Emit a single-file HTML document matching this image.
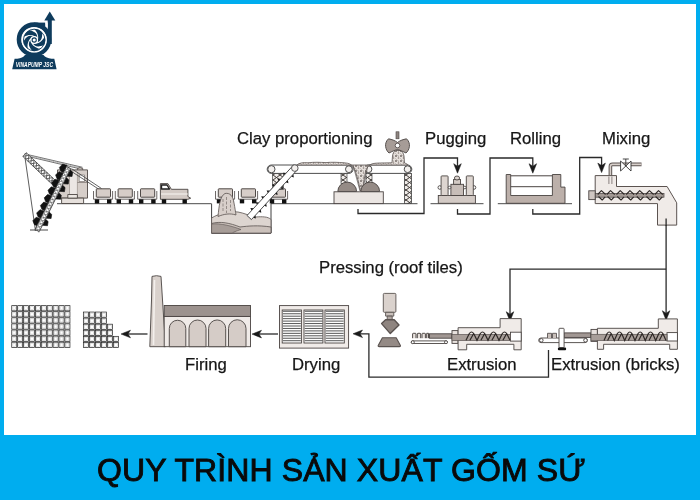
<!DOCTYPE html>
<html><head><meta charset="utf-8">
<style>
html,body{margin:0;padding:0;width:700px;height:500px;overflow:hidden;background:#fff}
#wrap{position:relative;width:700px;height:500px;background:#00adef}
#inner{position:absolute;left:4px;top:4px;width:692px;height:430.5px;background:#fff}
svg{position:absolute;left:0;top:0;will-change:transform}
.lbl{position:absolute;will-change:transform;-webkit-text-stroke:0.25px #161616;font-family:"Liberation Sans",sans-serif;font-size:16.7px;color:#161616;white-space:nowrap;line-height:1}
#title{position:absolute;will-change:transform;left:97px;top:453.5px;font-family:"Liberation Sans",sans-serif;font-weight:normal;-webkit-text-stroke:0.9px #0a0a0a;font-size:32px;color:#0a0a0a;letter-spacing:0.1px;white-space:nowrap;line-height:1}
</style></head><body>
<div id="wrap">
<div id="inner"></div>
<svg width="700" height="500" viewBox="0 0 700 500">
<g fill="none" stroke="#2a2a2a" stroke-width="1.3">
<!-- flow lines -->
<path d="M358 209 V213.5 H424 V158 H457.5 V166"/>
<path d="M457.5 209 V214 H490 V158 H532.8 V166"/>
<path d="M532.8 209 V214 H579.7 V157.5 H601.6 V166"/>
<path d="M666.1 219 V313"/>
<path d="M666.1 269.2 H510 V314"/>
<path d="M548.5 350 V377.2 H368.9 V333.8 H360"/>
<path d="M278 334 H258"/>
<path d="M147.5 334 H127"/>
</g>
<g fill="#1a1a1a" stroke="#1a1a1a" stroke-width="0.5" stroke-linejoin="miter"><path d="M457.5 173.2 L453.7 163.7 L457.5 166.2 L461.3 163.7 Z"/><path d="M532.8 173.2 L529.0 163.7 L532.8 166.2 L536.5999999999999 163.7 Z"/><path d="M601.6 172.6 L597.8000000000001 163.1 L601.6 165.6 L605.4 163.1 Z"/><path d="M666.1 320.2 L662.3000000000001 310.7 L666.1 313.2 L669.9 310.7 Z"/><path d="M510 321.2 L506.2 311.7 L510 314.2 L513.8 311.7 Z"/><path d="M353 333.8 L362.5 330.0 L360 333.8 L362.5 337.6 Z"/><path d="M252 334.1 L261.5 330.3 L259 334.1 L261.5 337.90000000000003 Z"/><path d="M121 334 L130.5 330.2 L128 334 L130.5 337.8 Z"/></g>

<g id="m1" stroke-linejoin="round">
<!-- ground lines -->
<g stroke="#4a4a4a" stroke-width="1" fill="none">
<path d="M57 203.7 H211.5 M271 203.7 H417.5"/>
<path d="M430.5 203.7 H483.5"/>
<path d="M497.8 203.7 H572"/>
<path d="M30 230 H48"/>
</g>
<!-- excavator -->
<g>
<path d="M24.6 154.8 L35.5 231" stroke="#333" stroke-width="0.8" fill="none"/>
<path d="M24.6 153.9 L82.5 167.3 M24.6 155.6 L82 169.3" stroke="#333" stroke-width="0.7" fill="none"/>
<path d="M24.40 155.43 L26.94 154.28 M24.80 153.77 L26.54 155.93 M26.54 155.93 L29.08 154.79 M26.94 154.28 L28.69 156.44 M28.69 156.44 L31.22 155.29 M29.08 154.79 L30.83 156.95 M30.83 156.95 L33.36 155.80 M31.22 155.29 L32.97 157.46 M32.97 157.46 L35.50 156.31 M33.36 155.80 L35.11 157.96 M35.11 157.96 L37.64 156.82 M35.50 156.31 L37.25 158.47 M37.25 158.47 L39.78 157.32 M37.64 156.82 L39.39 158.98 M39.39 158.98 L41.92 157.83 M39.78 157.32 L41.53 159.48 M41.53 159.48 L44.06 158.34 M41.92 157.83 L43.67 159.99 M43.67 159.99 L46.20 158.85 M44.06 158.34 L45.81 160.50 M45.81 160.50 L48.34 159.35 M46.20 158.85 L47.95 161.01 M47.95 161.01 L50.48 159.86 M48.34 159.35 L50.09 161.51 M50.09 161.51 L52.63 160.37 M50.48 159.86 L52.23 162.02 M52.23 162.02 L54.77 160.87 M52.63 160.37 L54.37 162.53 M54.37 162.53 L56.91 161.38 M54.77 160.87 L56.52 163.04 M56.52 163.04 L59.05 161.89 M56.91 161.38 L58.66 163.54 M58.66 163.54 L61.19 162.40 M59.05 161.89 L60.80 164.05 M60.80 164.05 L63.33 162.90 M61.19 162.40 L62.94 164.56 M62.94 164.56 L65.47 163.41 M63.33 162.90 L65.08 165.06 M65.08 165.06 L67.61 163.92 M65.47 163.41 L67.22 165.57 M67.22 165.57 L69.75 164.42 M67.61 163.92 L69.36 166.08 M69.36 166.08 L71.89 164.93 M69.75 164.42 L71.50 166.59 M71.50 166.59 L74.03 165.44 M71.89 164.93 L73.64 167.09 M73.64 167.09 L76.17 165.95 M74.03 165.44 L75.78 167.60 M75.78 167.60 L78.31 166.45 M76.17 165.95 L77.92 168.11 M77.92 168.11 L80.46 166.96 M78.31 166.45 L80.06 168.61 " stroke="#999" stroke-width="0.5" fill="none"/>
<path d="M22.87 156.41 L55.27 187.31 L58.73 183.69 L26.33 152.79 Z" fill="#fff" stroke="#333" stroke-width="0.8"/>
<path d="M22.87 156.41 L28.93 155.28 M26.33 152.79 L25.48 158.89 M25.48 158.89 L31.54 157.76 M28.93 155.28 L28.08 161.38 M28.08 161.38 L34.14 160.24 M31.54 157.76 L30.69 163.86 M30.69 163.86 L36.75 162.73 M34.14 160.24 L33.30 166.35 M33.30 166.35 L39.35 165.21 M36.75 162.73 L35.90 168.83 M35.90 168.83 L41.96 167.70 M39.35 165.21 L38.51 171.32 M38.51 171.32 L44.56 170.18 M41.96 167.70 L41.11 173.80 M41.11 173.80 L47.17 172.67 M44.56 170.18 L43.72 176.29 M43.72 176.29 L49.77 175.15 M47.17 172.67 L46.32 178.77 M46.32 178.77 L52.38 177.64 M49.77 175.15 L48.93 181.25 M48.93 181.25 L54.98 180.12 M52.38 177.64 L51.53 183.74 M51.53 183.74 L57.59 182.61 M54.98 180.12 L54.14 186.22 " stroke="#444" stroke-width="0.8" fill="none"/>
<g fill="#d6cec9" stroke="#4e4744" stroke-width="0.9">
<path d="M77.4 169.9 V168.5 Q80 166.8 82.7 168.5 V169.9" fill="#e0d9d5"/>
<rect x="57.5" y="169.9" width="30" height="28.2"/>
<rect x="61.6" y="198.1" width="22" height="5.4" fill="#e6e0dc"/>
<rect x="69.5" y="172" width="7.9" height="22" fill="#ece7e4" stroke="none"/>
<path d="M69.5 172 V194 M77.4 172 V198" stroke="#9a908b" stroke-width="0.7"/>
<rect x="79.2" y="175" width="5.3" height="6.5" fill="#fff" stroke="#6a625e" stroke-width="0.6"/>
<path d="M77.4 182.5 H87.5" stroke="#6a625e" stroke-width="0.6"/>
<rect x="67.8" y="194.5" width="9.6" height="3.6" fill="#ece7e3"/>
</g>
<g stroke="#3e3e3e" fill="none" stroke-width="0.8">
<path d="M71.5 168.6 L101.5 188.5 M70.5 170.8 L100 190"/>
</g>
<path d="M67.08 165.40 L62.74 164.02 L59.39 167.38 L60.82 171.22 L63.51 172.56 Z M63.29 173.01 L58.95 171.63 L55.60 174.98 L57.03 178.83 L59.72 180.17 Z M59.49 180.61 L55.15 179.23 L51.80 182.59 L53.24 186.44 L55.92 187.77 Z M55.70 188.22 L51.36 186.84 L48.01 190.20 L49.45 194.04 L52.13 195.38 Z M51.91 195.83 L47.57 194.45 L44.22 197.81 L45.66 201.65 L48.34 202.99 Z M48.12 203.44 L43.78 202.06 L40.43 205.41 L41.86 209.26 L44.55 210.60 Z M44.33 211.04 L39.99 209.66 L36.64 213.02 L38.07 216.87 L40.76 218.20 Z M40.54 218.65 L36.20 217.27 L32.85 220.63 L34.28 224.47 L36.97 225.81 Z M69.99 169.87 L72.68 172.32 L72.05 176.48 L66.87 176.13 Z M66.20 177.48 L68.88 179.93 L68.26 184.09 L63.08 183.74 Z M62.41 185.08 L65.09 187.54 L64.47 191.70 L59.28 191.35 Z M58.61 192.69 L61.30 195.15 L60.68 199.31 L55.49 198.96 Z M49.02 211.93 L51.71 214.39 L51.09 218.55 L45.90 218.20 Z M45.46 219.09 L48.14 221.55 L47.52 225.71 L42.33 225.36 Z " fill="#111" stroke="#111" stroke-width="0.6" stroke-linejoin="round"/>
<path d="M66.54 166.47 L35.14 229.47 L39.26 231.53 L70.66 168.53 Z" fill="#fff" stroke="#2e2e2e" stroke-width="0.9"/>
<path d="M66.54 166.47 L69.14 171.57 M70.66 168.53 L65.02 169.52 M65.02 169.52 L67.63 174.61 M69.14 171.57 L63.51 172.56 M63.51 172.56 L66.11 177.65 M67.63 174.61 L61.99 175.60 M61.99 175.60 L64.59 180.70 M66.11 177.65 L60.47 178.65 M60.47 178.65 L63.08 183.74 M64.59 180.70 L58.96 181.69 M58.96 181.69 L61.56 186.78 M63.08 183.74 L57.44 184.73 M57.44 184.73 L60.04 189.83 M61.56 186.78 L55.92 187.77 M55.92 187.77 L58.53 192.87 M60.04 189.83 L54.41 190.82 M54.41 190.82 L57.01 195.91 M58.53 192.87 L52.89 193.86 M52.89 193.86 L55.49 198.96 M57.01 195.91 L51.37 196.90 M51.37 196.90 L53.98 202.00 M55.49 198.96 L49.86 199.95 M49.86 199.95 L52.46 205.04 M53.98 202.00 L48.34 202.99 M48.34 202.99 L50.94 208.08 M52.46 205.04 L46.82 206.03 M46.82 206.03 L49.43 211.13 M50.94 208.08 L45.31 209.08 M45.31 209.08 L47.91 214.17 M49.43 211.13 L43.79 212.12 M43.79 212.12 L46.39 217.21 M47.91 214.17 L42.27 215.16 M42.27 215.16 L44.88 220.26 M46.39 217.21 L40.76 218.20 M40.76 218.20 L43.36 223.30 M44.88 220.26 L39.24 221.25 M39.24 221.25 L41.84 226.34 M43.36 223.30 L37.72 224.29 M37.72 224.29 L40.33 229.39 M41.84 226.34 L36.21 227.33 M36.21 227.33 L38.81 232.43 M40.33 229.39 L34.69 230.38 " stroke="#666" stroke-width="0.7" fill="none"/>
</g>
<!-- rail cars -->
<g id="car">
<path d="M93.5 191 V199.2 H112.6 V191" fill="#fbfaf9" stroke="#4a4442" stroke-width="0.8"/>
<rect x="96.3" y="188.8" width="14.2" height="8.4" fill="#d6cdc8" stroke="#3e3835" stroke-width="0.9" rx="0.6"/>
<rect x="94.8" y="199.3" width="4.4" height="4.2" fill="#111"/>
<rect x="107" y="199.3" width="4.4" height="4.2" fill="#111"/>
</g>
<use href="#car" x="21.8"/>
<use href="#car" x="44.2"/>
<use href="#car" x="122" y="0"/>
<use href="#car" x="145" y="0"/>
<!-- locomotive -->
<g stroke="#4a4442" stroke-width="0.9">
<path d="M160.4 199.3 V183.6 H167.9 L171.4 189.3 H187.9 V196.5 L190.7 198.2 L187.9 199.3 Z" fill="#d3cac5"/>
<path d="M161.5 185 H167 L169.5 189 H161.5 Z" fill="#fff" stroke="#222" stroke-width="1.4"/>
<path d="M161 194 H187.5" stroke="#e6e0dc" stroke-width="2"/>
<rect x="161.8" y="199.3" width="4.4" height="4.2" fill="#111" stroke="none"/>
<rect x="182.5" y="199.3" width="4.4" height="4.2" fill="#111" stroke="none"/>
</g>
</g>

<defs>
<pattern id="lat" width="7" height="4" patternUnits="userSpaceOnUse">
<rect width="7" height="4" fill="#fff"/>
<path d="M0 0 L3.5 4 L7 0" fill="none" stroke="#555" stroke-width="0.9"/>
</pattern>
<pattern id="latv" width="7" height="5" patternUnits="userSpaceOnUse">
<rect width="7" height="5" fill="#eeeae7"/>
<path d="M0 0 L7 5 M7 0 L0 5" fill="none" stroke="#3e3936" stroke-width="1"/>
</pattern>
<pattern id="speck" width="5" height="5" patternUnits="userSpaceOnUse">
<rect width="5" height="5" fill="#e6e0dc"/>
<circle cx="1" cy="1" r="0.9" fill="#6a625e"/>
<circle cx="3.5" cy="3" r="0.8" fill="#8a817c"/>
<path d="M2.5 0.5 L4 1.5 M0.5 3.5 L1.5 4.5" stroke="#5a5350" stroke-width="0.5"/>
</pattern>
</defs>
<g id="m2">
<!-- pit -->
<path d="M211.6 203.7 V233.1 H271 V203.7" fill="#fff" stroke="#3f3f3f" stroke-width="1"/>
<path d="M211.6 218 C218 214 228 211 238 212 C244 213 250 216 256 217 C262 216.5 268 216.5 271 219.5 V233.1 H211.6 Z" fill="#ddd5d0" stroke="#5a5350" stroke-width="0.8"/>
<path d="M211.6 223.5 C220 221 230 223 240 227 C248 226 258 225 271 227 V233.1 H211.6 Z" fill="#cbc1bb" stroke="#5a5350" stroke-width="0.8"/>
<path d="M211.6 224 C220 223 232 226 241 229.5 C236 231 233 232.5 232 233.1 H211.6 Z" fill="#a79d98" stroke="#5a5350" stroke-width="0.6"/>
<path d="M218 216.5 C219 206 220 196 225 193.5 C230 192.5 233 196 234 203 C235 208 235.5 212 236 215 C230 213 224 214 218 216.5 Z" fill="#d8cfca" stroke="#5a5350" stroke-width="0.8"/>
<path d="M223 199 V212 M226.5 197 V213 M230.5 200 V211" stroke="#8c837f" stroke-width="0.9" stroke-dasharray="3 1.5"/>
<!-- car 3 behind diag conveyor + small lattice -->
<use href="#car" x="175"/>
<rect x="272.5" y="173.4" width="11" height="16" fill="url(#latv)" stroke="#444" stroke-width="0.7"/>
<!-- upper belts -->
<g stroke="#3a3a3a" stroke-width="0.9">
<path d="M271.4 165 H348.9 A4.2 4.2 0 0 1 348.9 173.4 H271.4 A4.2 4.2 0 0 1 271.4 165 Z" fill="#fff"/>
<circle cx="271.4" cy="169.2" r="3.6" fill="#f3f0ee"/>
<circle cx="348.9" cy="169.2" r="3.4" fill="#f3f0ee"/>
<path d="M368.5 165 H407.6 A4.2 4.2 0 0 1 407.6 173.4 H368.5 A4.2 4.2 0 0 1 368.5 165 Z" fill="#fff"/>
<circle cx="368.5" cy="169.2" r="3.4" fill="#f3f0ee"/>
<circle cx="407.6" cy="169.2" r="3.4" fill="#f3f0ee"/>
</g>
<!-- clay on belts -->
<path d="M297 165 C299 163 303 162.2 308 162.8 C314 162 320 162.3 326 162.6 C332 162 338 162.3 344 162.8 C349 163 352 164.5 354 168 C356 172 358 180 360.5 191 L362.5 191 C364 180 365 172 367 168 C369 164.5 372 163.4 376 163.2 C382 162.8 388 163 392 162.8 L392.5 156 C393 153 394 151 396 150.5 H400 C402 151 403.5 153 404 156 L404.5 163 C406 163.5 407.5 164 408 165 H297 Z" fill="url(#speck)" stroke="#5a5350" stroke-width="0.8"/>
<path d="M353 165 L360 191 M368 165 L362.5 191" stroke="#5a5350" stroke-width="0.7" fill="none"/>
<!-- diagonal conveyor -->
<g>
<path d="M293.35 174.10 L293.83 177.41 L291.18 176.46 Z M287.92 179.99 L288.41 183.29 L285.75 182.34 Z M282.50 185.87 L282.99 189.17 L280.33 188.22 Z M277.08 191.75 L277.57 195.05 L274.91 194.10 Z M271.65 197.63 L272.14 200.94 L269.49 199.98 Z M266.23 203.51 L266.72 206.82 L264.06 205.86 Z M260.81 209.39 L261.30 212.70 L258.64 211.75 Z M255.39 215.28 L255.87 218.58 L253.22 217.63 Z M286.22 172.98 L282.89 172.76 L284.05 175.33 Z M280.80 178.86 L277.46 178.64 L278.63 181.21 Z M275.38 184.74 L272.04 184.52 L273.21 187.09 Z M269.95 190.62 L266.62 190.40 L267.79 192.98 Z M264.53 196.50 L261.20 196.29 L262.36 198.86 Z M259.11 202.39 L255.77 202.17 L256.94 204.74 Z M253.69 208.27 L250.35 208.05 L251.52 210.62 Z " fill="#1a1a1a"/>
<path d="M293.61 164.96 L247.02 215.50 L251.43 219.57 L298.02 169.03 Z" fill="#fff" stroke="#3a3a3a" stroke-width="0.9"/>
<circle cx="294.8" cy="168.1" r="3.3" fill="#f3f0ee" stroke="#3a3a3a" stroke-width="0.8"/>
</g>
<!-- crusher -->
<rect x="341" y="173.4" width="6" height="10" fill="url(#latv)" stroke="#444" stroke-width="0.7"/>
<rect x="366" y="173.4" width="6" height="10" fill="url(#latv)" stroke="#444" stroke-width="0.7"/>
<path d="M337.8 191.5 A9.4 9.4 0 0 1 356.6 191.5 Z" fill="#958b86" stroke="#4a4442" stroke-width="0.9"/>
<path d="M360.8 191.5 A9.4 9.4 0 0 1 379.6 191.5 Z" fill="#958b86" stroke="#4a4442" stroke-width="0.9"/>
<rect x="334" y="191.8" width="49.3" height="11.8" fill="#ebe6e3" stroke="#4a4442" stroke-width="0.9"/>
<rect x="404.5" y="173.4" width="7" height="30.2" fill="url(#latv)" stroke="#444" stroke-width="0.8"/>
<!-- axe crusher on top -->
<rect x="396" y="131.8" width="3" height="7" fill="#8d8480" stroke="#4a4442" stroke-width="0.6"/>
<path d="M397.5 142.5 C395 140.5 392 139.5 388.5 138.8 C386 141 385.3 144 385.6 146.5 C386 149.5 387.5 151.8 389 153 C392 151.5 395 150 397.5 149.5 C400 150 403 151.5 406 153 C407.5 151.8 409 149.5 409.4 146.5 C409.7 144 409 141 406.5 138.8 C403 139.5 400 140.5 397.5 142.5 Z" fill="#a69c97" stroke="#4a4442" stroke-width="0.9"/>
<circle cx="397.5" cy="145.5" r="2.3" fill="#fff" stroke="#4a4442" stroke-width="0.8"/>
</g>

<g id="m3" stroke="#4a4442" stroke-width="0.9">
<!-- pugging -->
<rect x="438.3" y="195.5" width="37.1" height="7.8" fill="#d3cac5"/>
<circle cx="439.8" cy="187.5" r="1.8" fill="#fff"/>
<circle cx="474" cy="187.5" r="1.8" fill="#fff"/>
<rect x="441.1" y="175.9" width="7" height="19.6" fill="#ddd5d0" rx="0.8"/>
<rect x="466.3" y="175.9" width="7" height="19.6" fill="#ddd5d0" rx="0.8"/>
<rect x="450.9" y="184.3" width="12.6" height="11.2" fill="#c7bdb8"/>
<rect x="453.6" y="179.5" width="6.9" height="4.8" fill="#d3cac5"/>
<ellipse cx="457" cy="178" rx="2.6" ry="2" fill="#ddd5d0"/>
<circle cx="449.5" cy="187.5" r="1.3" fill="#fff"/>
<circle cx="464.8" cy="187.5" r="1.3" fill="#fff"/>
<!-- rolling -->
<path d="M506.2 174.5 H510.7 V195.5 H552.4 V174.5 H560.8 V187.1 H565 V203.3 H506.2 Z" fill="#bcb0aa"/>
<path d="M510.7 175.8 H552.4 M510.7 186.7 H552.4" fill="none" stroke="#4a4442" stroke-width="1"/>
<!-- mixer -->
<path d="M610.4 176 V166.5 Q610.4 164.4 612.5 164.4 H641.5" fill="none" stroke="#5b5350" stroke-width="3.6"/>
<path d="M610.4 176 V166.5 Q610.4 164.4 612.5 164.4 H641.5" fill="none" stroke="#d8d0cb" stroke-width="1.6"/>
<path d="M620.6 161 L620.6 171 L631 161 L631 171 Z" fill="#fff" stroke="#333" stroke-width="0.9"/>
<path d="M625.8 166 V159 M622.8 159 H628.8" fill="none" stroke="#333" stroke-width="0.9"/>
<path d="M595.2 175.6 H616.5 V186.5 H667.1 L676.7 202.8 V225.1 H657.5 V203.6 H595.2 Z" fill="#f0ebe8" stroke="#5b5350" stroke-width="1"/>
<rect x="588.8" y="190.8" width="6.4" height="8.8" fill="#cfc6c1"/>
<path d="M666.1 218.5 V226" stroke="#2a2a2a" stroke-width="1.3" fill="none"/>
<path d="M608.9 176.5 V184 M611.9 176.5 V184" stroke="#5b5350" stroke-width="0.7" fill="none"/>
<rect x="595.3" y="193.5" width="68.7" height="3.7" fill="#a39994" stroke-width="0.7"/>
<g fill="none" stroke="#2e2826" stroke-width="1.1" stroke-linejoin="round">
<path d="M597.7 194.5 L601.4 190.6 L605.6 194.5 M598.5 196.5 L602.2 200 L605.2 196.8 M606.8 194.5 L610.5 190.6 L614.7 194.5 M607.6 196.5 L611.3 200 L614.3 196.8 M616.5 194.5 L620.2 190.6 L624.4 194.5 M617.3 196.5 L621.0 200 L624.0 196.8 M626.2 194.5 L629.9 190.6 L634.1 194.5 M627.0 196.5 L630.7 200 L633.7 196.8 M636.0 194.5 L639.7 190.6 L643.9 194.5 M636.8 196.5 L640.5 200 L643.5 196.8 M645.7 194.5 L649.4 190.6 L653.6 194.5 M646.5 196.5 L650.2 200 L653.2 196.8 M654.8 194.5 L658.5 190.6 L662.7 194.5 M655.6 196.5 L659.3 200 L662.3 196.8 "/>
</g>
</g>

<g id="m4">
<!-- grids -->
<g fill="none" stroke="#222" stroke-width="0.72">
<rect x="11.75" y="305.65" width="5.01" height="5.19"/>
<rect x="17.66" y="305.65" width="5.01" height="5.19"/>
<rect x="23.57" y="305.65" width="5.01" height="5.19"/>
<rect x="29.48" y="305.65" width="5.01" height="5.19"/>
<rect x="35.39" y="305.65" width="5.01" height="5.19"/>
<rect x="41.30" y="305.65" width="5.01" height="5.19"/>
<rect x="47.21" y="305.65" width="5.01" height="5.19"/>
<rect x="53.12" y="305.65" width="5.01" height="5.19"/>
<rect x="59.03" y="305.65" width="5.01" height="5.19"/>
<rect x="64.94" y="305.65" width="5.01" height="5.19"/>
<rect x="11.75" y="311.74" width="5.01" height="5.19"/>
<rect x="17.66" y="311.74" width="5.01" height="5.19"/>
<rect x="23.57" y="311.74" width="5.01" height="5.19"/>
<rect x="29.48" y="311.74" width="5.01" height="5.19"/>
<rect x="35.39" y="311.74" width="5.01" height="5.19"/>
<rect x="41.30" y="311.74" width="5.01" height="5.19"/>
<rect x="47.21" y="311.74" width="5.01" height="5.19"/>
<rect x="53.12" y="311.74" width="5.01" height="5.19"/>
<rect x="59.03" y="311.74" width="5.01" height="5.19"/>
<rect x="64.94" y="311.74" width="5.01" height="5.19"/>
<rect x="11.75" y="317.83" width="5.01" height="5.19"/>
<rect x="17.66" y="317.83" width="5.01" height="5.19"/>
<rect x="23.57" y="317.83" width="5.01" height="5.19"/>
<rect x="29.48" y="317.83" width="5.01" height="5.19"/>
<rect x="35.39" y="317.83" width="5.01" height="5.19"/>
<rect x="41.30" y="317.83" width="5.01" height="5.19"/>
<rect x="47.21" y="317.83" width="5.01" height="5.19"/>
<rect x="53.12" y="317.83" width="5.01" height="5.19"/>
<rect x="59.03" y="317.83" width="5.01" height="5.19"/>
<rect x="64.94" y="317.83" width="5.01" height="5.19"/>
<rect x="11.75" y="323.92" width="5.01" height="5.19"/>
<rect x="17.66" y="323.92" width="5.01" height="5.19"/>
<rect x="23.57" y="323.92" width="5.01" height="5.19"/>
<rect x="29.48" y="323.92" width="5.01" height="5.19"/>
<rect x="35.39" y="323.92" width="5.01" height="5.19"/>
<rect x="41.30" y="323.92" width="5.01" height="5.19"/>
<rect x="47.21" y="323.92" width="5.01" height="5.19"/>
<rect x="53.12" y="323.92" width="5.01" height="5.19"/>
<rect x="59.03" y="323.92" width="5.01" height="5.19"/>
<rect x="64.94" y="323.92" width="5.01" height="5.19"/>
<rect x="11.75" y="330.01" width="5.01" height="5.19"/>
<rect x="17.66" y="330.01" width="5.01" height="5.19"/>
<rect x="23.57" y="330.01" width="5.01" height="5.19"/>
<rect x="29.48" y="330.01" width="5.01" height="5.19"/>
<rect x="35.39" y="330.01" width="5.01" height="5.19"/>
<rect x="41.30" y="330.01" width="5.01" height="5.19"/>
<rect x="47.21" y="330.01" width="5.01" height="5.19"/>
<rect x="53.12" y="330.01" width="5.01" height="5.19"/>
<rect x="59.03" y="330.01" width="5.01" height="5.19"/>
<rect x="64.94" y="330.01" width="5.01" height="5.19"/>
<rect x="11.75" y="336.10" width="5.01" height="5.19"/>
<rect x="17.66" y="336.10" width="5.01" height="5.19"/>
<rect x="23.57" y="336.10" width="5.01" height="5.19"/>
<rect x="29.48" y="336.10" width="5.01" height="5.19"/>
<rect x="35.39" y="336.10" width="5.01" height="5.19"/>
<rect x="41.30" y="336.10" width="5.01" height="5.19"/>
<rect x="47.21" y="336.10" width="5.01" height="5.19"/>
<rect x="53.12" y="336.10" width="5.01" height="5.19"/>
<rect x="59.03" y="336.10" width="5.01" height="5.19"/>
<rect x="64.94" y="336.10" width="5.01" height="5.19"/>
<rect x="11.75" y="342.19" width="5.01" height="5.19"/>
<rect x="17.66" y="342.19" width="5.01" height="5.19"/>
<rect x="23.57" y="342.19" width="5.01" height="5.19"/>
<rect x="29.48" y="342.19" width="5.01" height="5.19"/>
<rect x="35.39" y="342.19" width="5.01" height="5.19"/>
<rect x="41.30" y="342.19" width="5.01" height="5.19"/>
<rect x="47.21" y="342.19" width="5.01" height="5.19"/>
<rect x="53.12" y="342.19" width="5.01" height="5.19"/>
<rect x="59.03" y="342.19" width="5.01" height="5.19"/>
<rect x="64.94" y="342.19" width="5.01" height="5.19"/><rect x="83.35" y="312.05" width="5.10" height="5.17"/>
<rect x="89.35" y="312.05" width="5.10" height="5.17"/>
<rect x="95.35" y="312.05" width="5.10" height="5.17"/>
<rect x="101.35" y="312.05" width="5.10" height="5.17"/>
<rect x="83.35" y="318.12" width="5.10" height="5.17"/>
<rect x="89.35" y="318.12" width="5.10" height="5.17"/>
<rect x="95.35" y="318.12" width="5.10" height="5.17"/>
<rect x="101.35" y="318.12" width="5.10" height="5.17"/>
<rect x="83.35" y="324.19" width="5.10" height="5.17"/>
<rect x="89.35" y="324.19" width="5.10" height="5.17"/>
<rect x="95.35" y="324.19" width="5.10" height="5.17"/>
<rect x="101.35" y="324.19" width="5.10" height="5.17"/>
<rect x="107.35" y="324.19" width="5.10" height="5.17"/>
<rect x="83.35" y="330.26" width="5.10" height="5.17"/>
<rect x="89.35" y="330.26" width="5.10" height="5.17"/>
<rect x="95.35" y="330.26" width="5.10" height="5.17"/>
<rect x="101.35" y="330.26" width="5.10" height="5.17"/>
<rect x="107.35" y="330.26" width="5.10" height="5.17"/>
<rect x="83.35" y="336.33" width="5.10" height="5.17"/>
<rect x="89.35" y="336.33" width="5.10" height="5.17"/>
<rect x="95.35" y="336.33" width="5.10" height="5.17"/>
<rect x="101.35" y="336.33" width="5.10" height="5.17"/>
<rect x="107.35" y="336.33" width="5.10" height="5.17"/>
<rect x="113.35" y="336.33" width="5.10" height="5.17"/>
<rect x="83.35" y="342.40" width="5.10" height="5.17"/>
<rect x="89.35" y="342.40" width="5.10" height="5.17"/>
<rect x="95.35" y="342.40" width="5.10" height="5.17"/>
<rect x="101.35" y="342.40" width="5.10" height="5.17"/>
<rect x="107.35" y="342.40" width="5.10" height="5.17"/>
<rect x="113.35" y="342.40" width="5.10" height="5.17"/>
</g>
<g fill="none" stroke="#c8c8c8" stroke-width="0.5">
<rect x="12.90" y="306.80" width="2.71" height="2.89"/>
<rect x="18.81" y="306.80" width="2.71" height="2.89"/>
<rect x="24.72" y="306.80" width="2.71" height="2.89"/>
<rect x="30.63" y="306.80" width="2.71" height="2.89"/>
<rect x="36.54" y="306.80" width="2.71" height="2.89"/>
<rect x="42.45" y="306.80" width="2.71" height="2.89"/>
<rect x="48.36" y="306.80" width="2.71" height="2.89"/>
<rect x="54.27" y="306.80" width="2.71" height="2.89"/>
<rect x="60.18" y="306.80" width="2.71" height="2.89"/>
<rect x="66.09" y="306.80" width="2.71" height="2.89"/>
<rect x="12.90" y="312.89" width="2.71" height="2.89"/>
<rect x="18.81" y="312.89" width="2.71" height="2.89"/>
<rect x="24.72" y="312.89" width="2.71" height="2.89"/>
<rect x="30.63" y="312.89" width="2.71" height="2.89"/>
<rect x="36.54" y="312.89" width="2.71" height="2.89"/>
<rect x="42.45" y="312.89" width="2.71" height="2.89"/>
<rect x="48.36" y="312.89" width="2.71" height="2.89"/>
<rect x="54.27" y="312.89" width="2.71" height="2.89"/>
<rect x="60.18" y="312.89" width="2.71" height="2.89"/>
<rect x="66.09" y="312.89" width="2.71" height="2.89"/>
<rect x="12.90" y="318.98" width="2.71" height="2.89"/>
<rect x="18.81" y="318.98" width="2.71" height="2.89"/>
<rect x="24.72" y="318.98" width="2.71" height="2.89"/>
<rect x="30.63" y="318.98" width="2.71" height="2.89"/>
<rect x="36.54" y="318.98" width="2.71" height="2.89"/>
<rect x="42.45" y="318.98" width="2.71" height="2.89"/>
<rect x="48.36" y="318.98" width="2.71" height="2.89"/>
<rect x="54.27" y="318.98" width="2.71" height="2.89"/>
<rect x="60.18" y="318.98" width="2.71" height="2.89"/>
<rect x="66.09" y="318.98" width="2.71" height="2.89"/>
<rect x="12.90" y="325.07" width="2.71" height="2.89"/>
<rect x="18.81" y="325.07" width="2.71" height="2.89"/>
<rect x="24.72" y="325.07" width="2.71" height="2.89"/>
<rect x="30.63" y="325.07" width="2.71" height="2.89"/>
<rect x="36.54" y="325.07" width="2.71" height="2.89"/>
<rect x="42.45" y="325.07" width="2.71" height="2.89"/>
<rect x="48.36" y="325.07" width="2.71" height="2.89"/>
<rect x="54.27" y="325.07" width="2.71" height="2.89"/>
<rect x="60.18" y="325.07" width="2.71" height="2.89"/>
<rect x="66.09" y="325.07" width="2.71" height="2.89"/>
<rect x="12.90" y="331.16" width="2.71" height="2.89"/>
<rect x="18.81" y="331.16" width="2.71" height="2.89"/>
<rect x="24.72" y="331.16" width="2.71" height="2.89"/>
<rect x="30.63" y="331.16" width="2.71" height="2.89"/>
<rect x="36.54" y="331.16" width="2.71" height="2.89"/>
<rect x="42.45" y="331.16" width="2.71" height="2.89"/>
<rect x="48.36" y="331.16" width="2.71" height="2.89"/>
<rect x="54.27" y="331.16" width="2.71" height="2.89"/>
<rect x="60.18" y="331.16" width="2.71" height="2.89"/>
<rect x="66.09" y="331.16" width="2.71" height="2.89"/>
<rect x="12.90" y="337.25" width="2.71" height="2.89"/>
<rect x="18.81" y="337.25" width="2.71" height="2.89"/>
<rect x="24.72" y="337.25" width="2.71" height="2.89"/>
<rect x="30.63" y="337.25" width="2.71" height="2.89"/>
<rect x="36.54" y="337.25" width="2.71" height="2.89"/>
<rect x="42.45" y="337.25" width="2.71" height="2.89"/>
<rect x="48.36" y="337.25" width="2.71" height="2.89"/>
<rect x="54.27" y="337.25" width="2.71" height="2.89"/>
<rect x="60.18" y="337.25" width="2.71" height="2.89"/>
<rect x="66.09" y="337.25" width="2.71" height="2.89"/>
<rect x="12.90" y="343.34" width="2.71" height="2.89"/>
<rect x="18.81" y="343.34" width="2.71" height="2.89"/>
<rect x="24.72" y="343.34" width="2.71" height="2.89"/>
<rect x="30.63" y="343.34" width="2.71" height="2.89"/>
<rect x="36.54" y="343.34" width="2.71" height="2.89"/>
<rect x="42.45" y="343.34" width="2.71" height="2.89"/>
<rect x="48.36" y="343.34" width="2.71" height="2.89"/>
<rect x="54.27" y="343.34" width="2.71" height="2.89"/>
<rect x="60.18" y="343.34" width="2.71" height="2.89"/>
<rect x="66.09" y="343.34" width="2.71" height="2.89"/><rect x="84.50" y="313.20" width="2.80" height="2.87"/>
<rect x="90.50" y="313.20" width="2.80" height="2.87"/>
<rect x="96.50" y="313.20" width="2.80" height="2.87"/>
<rect x="102.50" y="313.20" width="2.80" height="2.87"/>
<rect x="84.50" y="319.27" width="2.80" height="2.87"/>
<rect x="90.50" y="319.27" width="2.80" height="2.87"/>
<rect x="96.50" y="319.27" width="2.80" height="2.87"/>
<rect x="102.50" y="319.27" width="2.80" height="2.87"/>
<rect x="84.50" y="325.34" width="2.80" height="2.87"/>
<rect x="90.50" y="325.34" width="2.80" height="2.87"/>
<rect x="96.50" y="325.34" width="2.80" height="2.87"/>
<rect x="102.50" y="325.34" width="2.80" height="2.87"/>
<rect x="108.50" y="325.34" width="2.80" height="2.87"/>
<rect x="84.50" y="331.41" width="2.80" height="2.87"/>
<rect x="90.50" y="331.41" width="2.80" height="2.87"/>
<rect x="96.50" y="331.41" width="2.80" height="2.87"/>
<rect x="102.50" y="331.41" width="2.80" height="2.87"/>
<rect x="108.50" y="331.41" width="2.80" height="2.87"/>
<rect x="84.50" y="337.48" width="2.80" height="2.87"/>
<rect x="90.50" y="337.48" width="2.80" height="2.87"/>
<rect x="96.50" y="337.48" width="2.80" height="2.87"/>
<rect x="102.50" y="337.48" width="2.80" height="2.87"/>
<rect x="108.50" y="337.48" width="2.80" height="2.87"/>
<rect x="114.50" y="337.48" width="2.80" height="2.87"/>
<rect x="84.50" y="343.55" width="2.80" height="2.87"/>
<rect x="90.50" y="343.55" width="2.80" height="2.87"/>
<rect x="96.50" y="343.55" width="2.80" height="2.87"/>
<rect x="102.50" y="343.55" width="2.80" height="2.87"/>
<rect x="108.50" y="343.55" width="2.80" height="2.87"/>
<rect x="114.50" y="343.55" width="2.80" height="2.87"/>
</g>
<!-- kiln -->
<g stroke="#4a4442" stroke-width="0.9">
<path d="M152 276.4 Q156.5 275 161 276.4 L162.5 300 L165.5 346.7 H149.8 L151.5 300 Z" fill="#d9d1cc"/>
<path d="M154.5 280 L153.5 345" stroke="#f3efec" stroke-width="1.6"/>
<rect x="164.2" y="316.4" width="86.3" height="30.3" fill="#f0ebe8"/>
<rect x="164.2" y="305.5" width="86.3" height="10.9" fill="#9c928e"/>
<path d="M169.3 346.7 V328.5 A8.25 8.25 0 0 1 185.8 328.5 V346.7 Z M189 346.7 V328.5 A8.5 8.5 0 0 1 206 328.5 V346.7 Z M208.6 346.7 V328.5 A8.55 8.55 0 0 1 225.7 328.5 V346.7 Z M228.5 346.7 V328.5 A8.75 8.75 0 0 1 246 328.5 V346.7 Z" fill="#d5ccc7"/>
</g>
<!-- dryer -->
<g stroke="#4a4442" stroke-width="0.9">
<rect x="279.5" y="305.6" width="69.1" height="42.5" fill="#f0ebe8"/>
<rect x="282.2" y="310" width="19.2" height="33" fill="#fff"/>
<rect x="304" y="310" width="18.9" height="33" fill="#fff"/>
<rect x="325" y="310" width="19.3" height="33" fill="#fff"/>
<path d="M283.0 311.30 H300.8 M283.0 313.75 H300.8 M283.0 316.20 H300.8 M283.0 318.65 H300.8 M283.0 321.10 H300.8 M283.0 323.55 H300.8 M283.0 326.00 H300.8 M283.0 328.45 H300.8 M283.0 330.90 H300.8 M283.0 333.35 H300.8 M283.0 335.80 H300.8 M283.0 338.25 H300.8 M283.0 340.70 H300.8 M304.8 311.30 H322.6 M304.8 313.75 H322.6 M304.8 316.20 H322.6 M304.8 318.65 H322.6 M304.8 321.10 H322.6 M304.8 323.55 H322.6 M304.8 326.00 H322.6 M304.8 328.45 H322.6 M304.8 330.90 H322.6 M304.8 333.35 H322.6 M304.8 335.80 H322.6 M304.8 338.25 H322.6 M304.8 340.70 H322.6 M325.8 311.30 H343.6 M325.8 313.75 H343.6 M325.8 316.20 H343.6 M325.8 318.65 H343.6 M325.8 321.10 H343.6 M325.8 323.55 H343.6 M325.8 326.00 H343.6 M325.8 328.45 H343.6 M325.8 330.90 H343.6 M325.8 333.35 H343.6 M325.8 335.80 H343.6 M325.8 338.25 H343.6 M325.8 340.70 H343.6 " fill="none" stroke="#3a3a3a" stroke-width="0.85"/>
</g>
<!-- press -->
<g stroke="#5a5350" stroke-width="0.9" stroke-linejoin="round">
<rect x="383.3" y="293.4" width="12.6" height="18.9" fill="#dad2cd" rx="1"/>
<rect x="385.6" y="312.3" width="8.2" height="3.8" fill="#c9c0bb"/>
<rect x="387.2" y="316.1" width="5" height="3.9" fill="#b0a6a1"/>
<path d="M381.6 323.6 L385.6 319.8 H394.2 L399 325 L390.3 333.6 Z" fill="#8f8580" stroke-width="1.4"/>
<path d="M382.4 337.8 H396.2 L400.4 345.5 Q400.6 346.6 399.4 346.6 H379.2 Q377.9 346.6 378.2 345.5 Z" fill="#948a85" stroke-width="1.1"/>
</g>
<!-- extruder tiles -->
<g stroke="#4a4442" stroke-width="0.9">
<path d="M412.5 340.9 H446 A1.3 1.3 0 0 1 446 343.5 H412.5 A1.3 1.3 0 0 1 412.5 340.9 Z" fill="#fff"/>
<circle cx="412.8" cy="342.2" r="1.5" fill="#fff"/>
<circle cx="446" cy="342.2" r="1.5" fill="#fff"/>
<rect x="429.5" y="333.8" width="22.5" height="4.4" fill="#a19793"/>
<path d="M412.6 338.2 V334 Q412.6 333.3 413.3 333.3 H415.3 Q416 333.3 416 334 V338.2 M417.3 338.2 V334 Q417.3 333.3 418 333.3 H420 Q420.7 333.3 420.7 334 V338.2 M422 338.2 V334 Q422 333.3 422.7 333.3 H424.7 Q425.4 333.3 425.4 334 V338.2 M426.7 338.2 V333.3 H428.5 V338.2" fill="#e8e2de" stroke="#3e3835" stroke-width="0.9"/>
<rect x="452" y="330.6" width="6.1" height="12.8" fill="#e8e2de"/>
<path d="M500.1 318.6 H521.2 V349.8 H513.9 V344.3 H466.7 V349.8 H458.1 V327.7 H500.1 Z" fill="#f0ebe8"/>
<rect x="510.5" y="332.2" width="10.7" height="8.9" fill="#fff"/>
<rect x="452" y="334.5" width="58.5" height="6" fill="#a89e99" stroke="#5a5350" stroke-width="0.7"/>
<path d="M466.0 340.3 L469.3 333.5 Q471.5 330.5 473.7 333.5 L477.0 340.3 L480.3 333.5 Q482.5 330.5 484.7 333.5 L488.0 340.3 L491.3 333.5 Q493.5 330.5 495.7 333.5 L499.0 340.3 L502.3 333.5 Q504.5 330.5 506.7 333.5 L510.0 340.3 M473.7 333.5 L469.9 340.3 M484.7 333.5 L480.9 340.3 M495.7 333.5 L491.9 340.3 M506.7 333.5 L502.9 340.3 " fill="none" stroke="#2e2826" stroke-width="1.2"/>
</g>
<!-- extruder bricks -->
<g stroke="#4a4442" stroke-width="0.9">
<path d="M541 338 H585 A2.3 2.3 0 0 1 585 342.6 H541 A2.3 2.3 0 0 1 541 338 Z" fill="#fff"/>
<circle cx="541.3" cy="340.3" r="1.8" fill="#fff"/>
<circle cx="585.5" cy="340.3" r="1.8" fill="#fff"/>
<path d="M547.5 338 V333.3 H551.5 V338 M552.5 338 V333.3 H556.5 V338" fill="#c9c0bb" stroke-width="0.8"/>
<rect x="564" y="332.9" width="27" height="4.5" fill="#a19793"/>
<rect x="559" y="328.3" width="5.1" height="19.4" fill="#fff" rx="0.8"/>
<rect x="557.9" y="347.4" width="8.2" height="2.8" fill="#111" stroke="none" rx="1"/>
<rect x="591" y="329.4" width="6.4" height="12" fill="#e8e2de"/>
<path d="M658.3 318.9 H677.4 V349.3 H669.7 V344.3 H603.6 V349.3 H597.4 V328.3 H658.3 Z" fill="#f0ebe8"/>
<rect x="667" y="332.6" width="10.4" height="8.4" fill="#fff"/>
<rect x="591" y="334.3" width="76" height="6.2" fill="#a89e99" stroke="#5a5350" stroke-width="0.7"/>
<path d="M604.0 340.5 L607.1 333.5 Q609.2 330.5 611.2 333.5 L614.3 340.5 L617.4 333.5 Q619.5 330.5 621.6 333.5 L624.7 340.5 L627.8 333.5 Q629.8 330.5 631.9 333.5 L635.0 340.5 L638.1 333.5 Q640.2 330.5 642.2 333.5 L645.3 340.5 L648.4 333.5 Q650.5 330.5 652.6 333.5 L655.7 340.5 L658.8 333.5 Q660.8 330.5 662.9 333.5 L666.0 340.5 M611.2 333.5 L607.6 340.5 M621.6 333.5 L618.0 340.5 M631.9 333.5 L628.3 340.5 M642.2 333.5 L638.6 340.5 M652.6 333.5 L649.0 340.5 M662.9 333.5 L659.3 340.5 " fill="none" stroke="#2e2826" stroke-width="1.2"/>
</g>
</g>

<g id="logo" fill="#0e3b5c">
<circle cx="34.0" cy="39.6" r="15.0" fill="none" stroke="#0e3b5c" stroke-width="4.6"/>
<rect x="34.0" y="22.6" width="11.2" height="3.9"/>
<rect x="47.7" y="19" width="4.1" height="25"/>
<path d="M44.3 20.4 L49.75 11.6 L55.3 20.4 Z"/>
<path d="M45.2 22.4 L47.7 22.4 L47.7 28.5 Z" fill="#fff"/>
<circle cx="34.2" cy="40.0" r="12.6" fill="#fff"/>
<circle cx="34.2" cy="40.0" r="10.8" fill="none" stroke="#0e3b5c" stroke-width="0.9"/>
<g><path d="M34.20 29.10 A10.9 10.9 0 0 1 42.04 32.43 C42.77 39.25 40.10 41.92 36.73 42.28 C39.12 39.13 39.00 33.85 34.20 29.10 Z"/><path d="M44.57 36.63 A10.9 10.9 0 0 1 43.82 45.12 C37.56 47.92 34.20 46.20 32.82 43.11 C36.55 44.41 41.53 42.67 44.57 36.63 Z"/><path d="M40.61 48.82 A10.9 10.9 0 0 1 32.31 50.73 C27.71 45.64 28.30 41.92 30.82 39.64 C30.73 43.60 33.93 47.80 40.61 48.82 Z"/><path d="M27.79 48.82 A10.9 10.9 0 0 1 23.41 41.52 C26.83 35.57 30.56 34.98 33.49 36.67 C29.71 37.81 26.70 42.15 27.79 48.82 Z"/><path d="M23.83 36.63 A10.9 10.9 0 0 1 29.42 30.20 C36.13 31.62 37.84 34.98 37.14 38.30 C34.90 35.05 29.84 33.53 23.83 36.63 Z"/></g>
<circle cx="34.2" cy="40.0" r="3.9" fill="#fff"/>
<circle cx="34.2" cy="40.0" r="2.1" fill="none" stroke="#0e3b5c" stroke-width="1.1"/>
<path d="M25 55 H43.5 C45 57 48 58.4 51.5 58.8 H54.3 L56.6 69.2 H12.2 L14.6 58.8 H17.3 C21 58.4 23.5 57 25 55 Z"/>
<text x="34.4" y="66.9" text-anchor="middle" font-family="Liberation Sans" font-weight="bold" font-style="italic" font-size="6.3" fill="#fff" textLength="37.4" lengthAdjust="spacingAndGlyphs" transform="rotate(0.01 34 64)">VINAPUMP JSC</text>
</g>
</svg>
<div class="lbl" style="left:237px;top:130.5px">Clay proportioning</div>
<div class="lbl" style="left:425px;top:130.5px">Pugging</div>
<div class="lbl" style="left:510px;top:130.5px">Rolling</div>
<div class="lbl" style="left:602px;top:130.5px">Mixing</div>
<div class="lbl" style="left:319px;top:259.5px">Pressing (roof tiles)</div>
<div class="lbl" style="left:447px;top:357.3px">Extrusion</div>
<div class="lbl" style="left:551px;top:357.3px">Extrusion (bricks)</div>
<div class="lbl" style="left:185px;top:357.3px">Firing</div>
<div class="lbl" style="left:291.7px;top:357.3px">Drying</div>
<div id="title">QUY TRÌNH SẢN XUẤT GỐM SỨ</div>
</div>
</body></html>
